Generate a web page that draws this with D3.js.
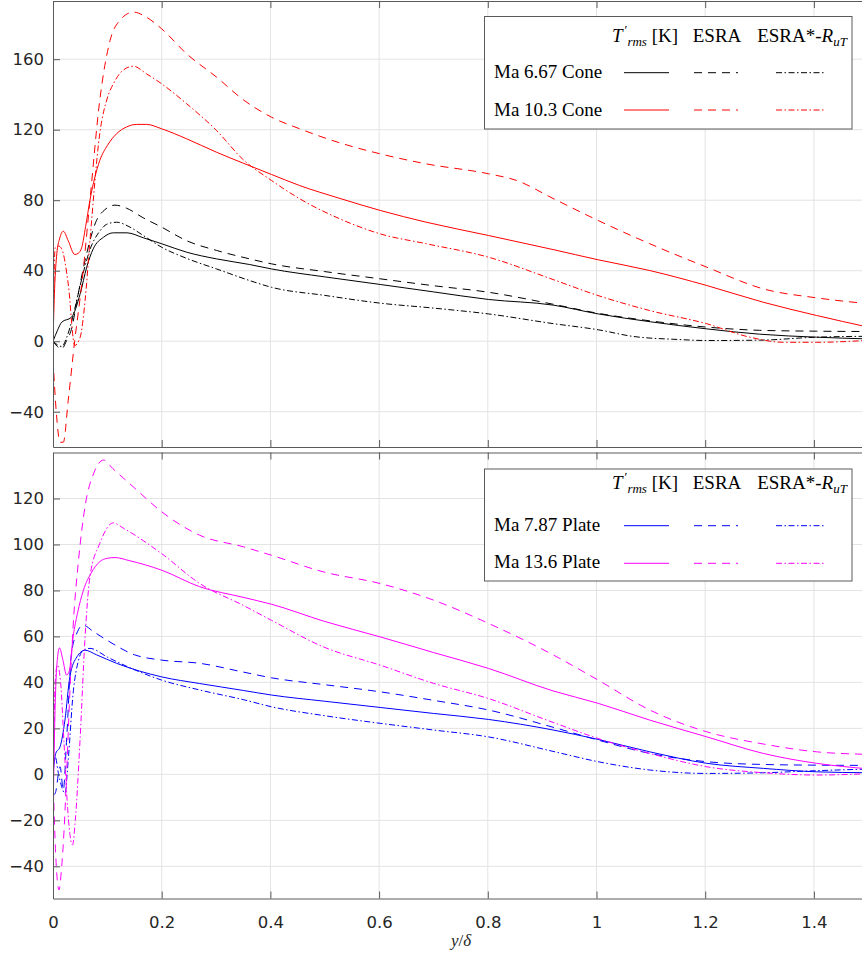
<!DOCTYPE html>
<html>
<head>
<meta charset="utf-8">
<script src="https://cdn.jsdelivr.net/npm/d3@7"></script>
<style>
  body { margin: 0; background: #fff; }
  svg { display: block; }
</style>
</head>
<body>
<div id="chart"></div>
<script>
// ---- Data: [y/delta, T'rms (K)] ----

// Cone, Ma 6.67 (black)
var cone667T = [[0,0],[0.008,6],[0.016,10.8],[0.034,13.6],[0.05,26.9],[0.062,42],[0.074,52.4],[0.093,59],[0.111,61.5],[0.136,61.5],[0.166,58.7],[0.2,55.3],[0.246,50.5],[0.301,46.7],[0.362,43.5],[0.402,41],[0.5,36.5],[0.602,32.2],[0.7,28],[0.801,23.7],[0.92,20.5],[1.003,15.5],[1.1,11],[1.203,7],[1.3,4],[1.405,2.3],[1.5,1.3]];
var cone667E = [[0,0],[0.008,-3],[0.016,-4.3],[0.025,0.4],[0.035,8],[0.044,23],[0.059,45.8],[0.08,68.5],[0.095,74.5],[0.114,77.2],[0.135,75.5],[0.166,70],[0.2,64.7],[0.246,57],[0.301,51.5],[0.362,46.7],[0.402,43.9],[0.5,39.5],[0.602,35.4],[0.7,31.5],[0.801,27.8],[0.92,21],[1.0,16],[1.1,11.5],[1.203,8],[1.3,6.2],[1.405,5.7],[1.5,5.5]];
var cone667R = [[0,0],[0.008,-2],[0.016,-3],[0.025,2],[0.035,12],[0.045,25],[0.055,38],[0.068,52],[0.085,62],[0.1,66.5],[0.117,67.5],[0.14,65],[0.166,60],[0.2,53.3],[0.246,47],[0.301,41],[0.362,34.4],[0.402,30.6],[0.5,26],[0.602,21.6],[0.7,18.8],[0.801,15.5],[0.92,10],[1.003,6.5],[1.068,2.7],[1.15,1],[1.203,0.4],[1.3,0.6],[1.405,2.3],[1.5,2.8]];

// Cone, Ma 10.3 (red)
var cone103T = [[0,0],[0.003,30],[0.007,49.6],[0.012,58],[0.019,62.4],[0.028,57],[0.04,49.2],[0.047,50],[0.053,53.3],[0.06,65],[0.068,80],[0.086,102.5],[0.1,111],[0.117,117.7],[0.135,121.5],[0.154,123],[0.172,123],[0.2,120.5],[0.246,114.8],[0.301,107.2],[0.35,101],[0.402,94.6],[0.454,88.3],[0.528,81],[0.602,74.2],[0.687,67.5],[0.801,60],[0.92,52],[1.003,46.2],[1.098,40.1],[1.203,31.6],[1.307,22.1],[1.405,14.6],[1.5,8]];
var cone103E = [[0,-10],[0.006,-40],[0.013,-57.3],[0.019,-57.3],[0.028,-33.6],[0.04,0.4],[0.053,32.6],[0.068,80],[0.086,136.6],[0.105,170.6],[0.123,182],[0.148,186.7],[0.172,183.8],[0.2,177.2],[0.246,163],[0.301,149.8],[0.35,137],[0.402,127.1],[0.454,120.5],[0.528,112.5],[0.602,106.3],[0.687,100.6],[0.801,95],[0.853,91.2],[0.92,81],[1.003,68.5],[1.098,55.3],[1.203,42],[1.307,29.7],[1.405,24.6],[1.5,21.3]];
var cone103R = [[0,5],[0.004,53],[0.01,54],[0.016,52.4],[0.028,32.6],[0.04,-2.4],[0.05,2.3],[0.059,23],[0.068,57],[0.086,117.7],[0.1,138],[0.111,146],[0.13,154],[0.148,156],[0.172,151.7],[0.2,146],[0.246,134.7],[0.301,119.5],[0.35,103],[0.402,91.2],[0.454,80.8],[0.528,69.4],[0.602,60.9],[0.687,55.3],[0.801,47.7],[0.92,35],[1.003,25.9],[1.098,17.4],[1.203,9.9],[1.282,2.3],[1.344,-0.6],[1.405,-0.6],[1.5,0.5]];

// Plate, Ma 7.87 (blue)
var plate787T = [[0,0],[0.005,9.1],[0.013,12],[0.022,23.6],[0.031,42.4],[0.044,51.1],[0.059,54],[0.08,52],[0.117,48.3],[0.2,42.4],[0.27,39.5],[0.35,36.5],[0.402,34.5],[0.5,31.8],[0.602,29.1],[0.7,26.5],[0.801,23.9],[0.92,19.3],[1.003,15.2],[1.098,9.8],[1.203,4.8],[1.307,2.6],[1.405,1.1],[1.5,0.7]];
var plate787E = [[0,-9],[0.004,-8.3],[0.013,3.3],[0.019,-6.8],[0.025,15],[0.034,52.6],[0.045,62],[0.055,64.9],[0.075,62],[0.099,58.4],[0.15,52],[0.2,49.7],[0.27,48.3],[0.35,44.5],[0.402,42],[0.5,39],[0.602,35.9],[0.7,32.2],[0.801,28],[0.92,20.5],[1.003,14.9],[1.098,9.1],[1.203,5.5],[1.307,4.3],[1.405,4],[1.5,3.9]];
var plate787R = [[0,3],[0.004,7.7],[0.01,0.4],[0.016,-5.4],[0.022,-8.3],[0.028,6.2],[0.037,35.2],[0.047,49.7],[0.056,54],[0.068,54.8],[0.1,51],[0.15,45.5],[0.2,41],[0.27,36.7],[0.35,32.5],[0.402,29.4],[0.5,25.5],[0.602,22.2],[0.7,19.3],[0.801,16.3],[0.92,10],[1.003,5.5],[1.098,1.9],[1.203,0.4],[1.307,0.7],[1.405,1.6],[1.5,2.3]];

// Plate, Ma 13.6 (magenta)
var plate136T = [[0,-20],[0.004,30],[0.008,50],[0.012,55],[0.018,50],[0.025,43.2],[0.03,45],[0.037,59.8],[0.045,70],[0.056,80.1],[0.07,87.5],[0.086,92.5],[0.1,94],[0.114,94.3],[0.14,93],[0.2,88.8],[0.27,81.6],[0.35,77],[0.402,74],[0.5,66.5],[0.602,59.8],[0.7,53],[0.801,46.1],[0.92,36.3],[1.003,30.9],[1.098,23.6],[1.203,16.3],[1.307,9.1],[1.405,4.8],[1.5,2.4]];
var plate136E = [[0,0],[0.005,-35],[0.011,-50.3],[0.016,-40],[0.019,-30],[0.025,0],[0.03,30],[0.037,64.2],[0.047,93.2],[0.06,118],[0.075,131],[0.093,136.7],[0.11,133],[0.148,125],[0.2,114.2],[0.27,104],[0.35,99],[0.402,95.3],[0.497,88.1],[0.602,83],[0.7,75.8],[0.801,65.7],[0.92,52],[1.003,41],[1.098,28],[1.203,18.5],[1.307,13.2],[1.405,9.8],[1.5,8.7]];
var plate136R = [[0,-10],[0.004,40],[0.008,47.5],[0.014,40],[0.02,15],[0.027,-15],[0.033,-29],[0.036,-30.7],[0.041,-20],[0.05,16],[0.059,59.8],[0.068,86],[0.086,100.4],[0.111,109.4],[0.13,107],[0.2,96],[0.27,83],[0.35,73.5],[0.402,67],[0.497,55.5],[0.602,47.5],[0.7,39.6],[0.801,33],[0.92,22.6],[1.003,15.6],[1.098,9.1],[1.203,3.3],[1.307,0.7],[1.405,-0.3],[1.5,0.3]];

// Axis ticks and labels
var xTicks = [0, 0.2, 0.4, 0.6, 0.8, 1, 1.2, 1.4];
var coneYTicks = [-40, 0, 40, 80, 120, 160];
var plateYTicks = [-40, -20, 0, 20, 40, 60, 80, 100, 120];
var coneCases = ["Ma 6.67 Cone", "Ma 10.3 Cone"];
var plateCases = ["Ma 7.87 Plate", "Ma 13.6 Plate"];

// ---- Layout ----
var svgWidth = 862;
var svgHeight = 957;
var plotLeft = 53;
var plotRight = 868.25; // x = 1.5 sits just past the picture edge

var styles = [
  { name: "T", dash: null },
  { name: "ESRA", dash: "8,6" },
  { name: "ESRA*", dash: "6,2.5,1.5,2.5" }
];

var panels = [
  {
    top: 1, bottom: 447, yDomain: [-60, 193], yTicks: coneYTicks, showX: false,
    cases: coneCases, colors: ["#000000", "#ff0000"],
    series: [[cone667T, cone667E, cone667R], [cone103T, cone103E, cone103R]],
    legend: { x: 484.5, y: 16.5, h: 112.5, header: 42, rows: [78.3, 115.8], lines: [72.7, 110] }
  },
  {
    top: 452.5, bottom: 898.5, yDomain: [-54, 140], yTicks: plateYTicks, showX: true,
    cases: plateCases, colors: ["#0000ff", "#ff00ff"],
    series: [[plate787T, plate787E, plate787R], [plate136T, plate136E, plate136R]],
    legend: { x: 484.5, y: 469, h: 112, header: 489, rows: [531, 568], lines: [525.7, 563.3] }
  }
];

var svg = d3.select("#chart")
  .append("svg")
  .attr("width", svgWidth)
  .attr("height", svgHeight);

var xScale = d3.scaleLinear().domain([0, 1.5]).range([plotLeft, plotRight]);

var axisColor = "#5a5a5a";
var gridColor = "#e3e3e3";
var tickFont = "'DejaVu Sans', sans-serif";
var serifFont = "'Liberation Serif', 'DejaVu Serif', serif";

panels.forEach(function(p, pi) {
  var yScale = d3.scaleLinear().domain(p.yDomain).range([p.bottom, p.top]);
  var g = svg.append("g");

  // clip to the axes box
  var clipId = "clip" + pi;
  svg.append("clipPath").attr("id", clipId)
    .append("rect")
    .attr("x", plotLeft).attr("y", p.top)
    .attr("width", plotRight - plotLeft).attr("height", p.bottom - p.top);

  // grid
  g.append("g").selectAll("line").data(xTicks.slice(1)).enter().append("line")
    .attr("x1", d => xScale(d)).attr("x2", d => xScale(d))
    .attr("y1", p.top).attr("y2", p.bottom)
    .attr("stroke", gridColor).attr("stroke-width", 1);
  g.append("g").selectAll("line").data(p.yTicks).enter().append("line")
    .attr("x1", plotLeft).attr("x2", plotRight)
    .attr("y1", d => yScale(d)).attr("y2", d => yScale(d))
    .attr("stroke", gridColor).attr("stroke-width", 1);

  // curves
  var line = d3.line()
    .x(d => xScale(d[0]))
    .y(d => yScale(d[1]))
    .curve(d3.curveMonotoneX);

  var curves = g.append("g").attr("clip-path", "url(#" + clipId + ")");
  p.series.forEach(function(caseSeries, ci) {
    caseSeries.forEach(function(data, si) {
      curves.append("path")
        .datum(data)
        .attr("d", line)
        .attr("fill", "none")
        .attr("stroke", p.colors[ci])
        .attr("stroke-width", 1)
        .attr("stroke-dasharray", styles[si].dash);
    });
  });

  // axes, ticks pointing inward on every side
  var leftAxis = d3.axisLeft(yScale).tickValues(p.yTicks).tickSizeInner(-7).tickSizeOuter(0).tickPadding(16);
  var topAxis = d3.axisTop(xScale).tickValues(xTicks).tickSizeInner(-7).tickSizeOuter(0).tickFormat("");
  var bottomAxis = d3.axisBottom(xScale).tickValues(xTicks).tickSizeInner(-7).tickSizeOuter(0)
    .tickPadding(18).tickFormat(p.showX ? d3.format("") : "");

  var ya = g.append("g").attr("transform", `translate(${plotLeft},0)`).call(leftAxis);
  var ta = g.append("g").attr("transform", `translate(0,${p.top})`).call(topAxis);
  var ba = g.append("g").attr("transform", `translate(0,${p.bottom})`).call(bottomAxis);

  [ya, ta, ba].forEach(function(a) {
    a.select(".domain").attr("stroke", axisColor);
    a.selectAll(".tick line").attr("stroke", axisColor);
    a.selectAll(".tick text")
      .attr("fill", "#262626")
      .style("font-family", tickFont)
      .style("font-size", "16.5px");
  });
  ya.selectAll(".tick text").attr("x", -9);

  // legend
  var L = p.legend;
  var lg = g.append("g");
  lg.append("rect")
    .attr("x", L.x).attr("y", L.y)
    .attr("width", 367.5).attr("height", L.h)
    .attr("fill", "#fff").attr("stroke", axisColor).attr("stroke-width", 1);

  var headerCenters = [645, 717, 802];
  var h0 = lg.append("text").attr("x", headerCenters[0]).attr("y", L.header)
    .attr("text-anchor", "middle").style("font-family", serifFont).style("font-size", "19px");
  h0.append("tspan").style("font-style", "italic").text("T");
  h0.append("tspan").attr("dx", 2).attr("dy", -8).style("font-size", "13px").text("\u2032");
  h0.append("tspan").attr("dy", 12).style("font-size", "13px").style("font-style", "italic").text("rms");
  h0.append("tspan").attr("dy", -4).text(" [K]");

  lg.append("text").attr("x", headerCenters[1]).attr("y", L.header)
    .attr("text-anchor", "middle").style("font-family", serifFont).style("font-size", "19px")
    .text("ESRA");

  var h2 = lg.append("text").attr("x", headerCenters[2]).attr("y", L.header)
    .attr("text-anchor", "middle").style("font-family", serifFont).style("font-size", "19px");
  h2.append("tspan").text("ESRA*-");
  h2.append("tspan").style("font-style", "italic").text("R");
  h2.append("tspan").attr("dy", 4).style("font-size", "13px").style("font-style", "italic").text("uT");

  var sampleX = [[624, 669], [694, 738], [776, 825]];
  p.cases.forEach(function(label, ci) {
    lg.append("text")
      .attr("x", 494).attr("y", L.rows[ci])
      .style("font-family", serifFont).style("font-size", "19px")
      .attr("fill", "#000")
      .text(label);
    styles.forEach(function(s, si) {
      lg.append("line")
        .attr("x1", sampleX[si][0]).attr("x2", sampleX[si][1])
        .attr("y1", L.lines[ci]).attr("y2", L.lines[ci])
        .attr("stroke", p.colors[ci]).attr("stroke-width", 1)
        .attr("stroke-dasharray", s.dash);
    });
  });
});

// x-axis label
var xl = svg.append("text")
  .attr("x", 461).attr("y", 946)
  .attr("text-anchor", "middle")
  .style("font-family", serifFont).style("font-size", "17px")
  .attr("fill", "#262626");
xl.append("tspan").style("font-style", "italic").text("y");
xl.append("tspan").text("/");
xl.append("tspan").style("font-style", "italic").text("\u03b4");
</script>
</body>
</html>
